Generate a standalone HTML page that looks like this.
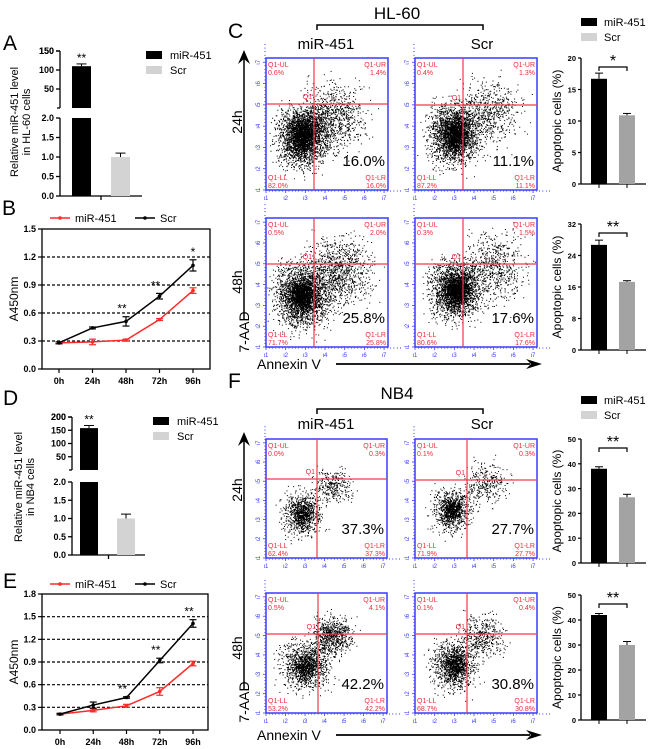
<!DOCTYPE html>
<html><head><meta charset="utf-8"><style>
html,body{margin:0;padding:0;background:#fff}
svg{display:block;font-family:"Liberation Sans",Arial,sans-serif}
</style></head><body>
<svg id="fig" width="650" height="749" viewBox="0 0 650 749" xmlns="http://www.w3.org/2000/svg"></svg>
<script>
// ---- data ----
const timeLabels = ["0h","24h","48h","72h","96h"];
const bMir = [0.28,0.29,0.31,0.53,0.84];
const bMirErr = [0.01,0.03,0.01,0.01,0.03];
const bScr = [0.28,0.44,0.51,0.78,1.11];
const bScrErr = [0.01,0.01,0.05,0.03,0.06];
const bStars = ["","","**","**","*"];
const bTicks = [0,0.3,0.6,0.9,1.2,1.5];
const eMir = [0.21,0.26,0.32,0.51,0.88];
const eMirErr = [0.01,0.02,0.02,0.05,0.03];
const eScr = [0.21,0.33,0.43,0.92,1.41];
const eScrErr = [0.01,0.04,0.01,0.03,0.05];
const eStars = ["","","**","**","**"];
const eTicks = [0,0.3,0.6,0.9,1.2,1.5,1.8];
const aValues = [110,1.0];
const aErr = [6,0.1];
const aUpperTicks = [50,100,150];
const dValues = [158,1.0];
const dErr = [10,0.12];
const dUpperTicks = [50,100,150,200];
const brokenLowerTicks = [0,0.5,1.0,1.5,2.0];
const cApop24 = [16.7,10.9]; const cApop24Err = [0.9,0.3];
const cApop48 = [26.7,17.3]; const cApop48Err = [1.2,0.3];
const fApop24 = [38,26.5]; const fApop24Err = [0.8,1.2];
const fApop48 = [42,30]; const fApop48Err = [0.6,1.4];
const cTicks24 = [0,5,10,15,20];
const cTicks48 = [0,8,16,24,32];
const fTicks = [0,10,20,30,40,50];
const cQuad = [["0.6%","1.4%","82.0%","16.0%"],["0.4%","1.3%","87.2%","11.1%"],["0.5%","2.0%","71.7%","25.8%"],["0.3%","1.5%","80.6%","17.6%"]];
const fQuad = [["0.0%","0.3%","62.4%","37.3%"],["0.1%","0.3%","71.9%","27.7%"],["0.5%","4.1%","53.2%","42.2%"],["0.1%","0.4%","68.7%","30.8%"]];

const svg = document.getElementById('fig');
const NS = "http://www.w3.org/2000/svg";
function el(tag, attrs, parent, text){
  const e = document.createElementNS(NS, tag);
  for (const k in attrs) e.setAttribute(k, attrs[k]);
  if (text !== undefined) e.textContent = text;
  (parent||svg).appendChild(e);
  return e;
}
function txt(x,y,s,size,opts,parent){
  opts = opts||{};
  const t = el('text',{x:x,y:y,'font-size':size,fill:opts.fill||'#000','text-anchor':opts.anchor||'start','font-weight':opts.bold?'bold':'normal'},parent,s);
  if (opts.rot) t.setAttribute('transform','rotate(-90 '+x+' '+y+')');
  return t;
}

// panel letters
[["A",3,50],["B",2,215],["C",228,38],["D",3,405],["E",3,588],["F",228,388]].forEach(p=>{
  const t = txt(p[1],p[2],p[0],21);
  
  
});

// ---- broken-axis bar chart (A, D) ----
function brokenBar(cfg){
  const g = el('g',{});
  
  
  const ax = cfg.ax;
  const yU = v => cfg.uBot - (v - cfg.uMin)/(cfg.uMax - cfg.uMin)*(cfg.uBot - cfg.uTop);
  const yL = v => cfg.lBot - v/2.0*(cfg.lBot - cfg.lTop);
  el('line',{x1:ax,y1:cfg.uTop,x2:ax,y2:cfg.uBot,stroke:'#000','stroke-width':1.3},g);
  el('line',{x1:ax,y1:cfg.lTop,x2:ax,y2:cfg.lBot,stroke:'#000','stroke-width':1.3},g);
  el('line',{x1:ax-3,y1:cfg.uBot,x2:ax,y2:cfg.uBot,stroke:'#000','stroke-width':1.3},g);
  el('line',{x1:ax,y1:cfg.lBot,x2:cfg.axEnd,y2:cfg.lBot,stroke:'#000','stroke-width':1.3},g);
  el('line',{x1:(ax+cfg.axEnd)/2,y1:cfg.lBot,x2:(ax+cfg.axEnd)/2,y2:cfg.lBot+4,stroke:'#000','stroke-width':1.3},g);
  cfg.upperTicks.forEach(v=>{ const y=yU(v); el('line',{x1:ax-4,y1:y,x2:ax,y2:y,stroke:'#000','stroke-width':1.3},g); txt(ax-6,y+3,String(v),9,{anchor:'end',bold:true},g); });
  el('line',{x1:ax-4,y1:cfg.uTop,x2:ax,y2:cfg.uTop,stroke:'#000','stroke-width':1.3},g);
  txt(ax-6,cfg.uTop+3,String(cfg.uMax),9,{anchor:'end',bold:true},g);
  brokenLowerTicks.forEach(v=>{ const y=yL(v); el('line',{x1:ax-4,y1:y,x2:ax,y2:y,stroke:'#000','stroke-width':1.3},g); txt(ax-6,y+3,v.toFixed(1),9,{anchor:'end',bold:true},g); });
  const v0 = cfg.values[0];
  const b1 = el('rect',{x:cfg.bx[0],y:cfg.lTop,width:cfg.bw,height:cfg.lBot-cfg.lTop,fill:'#000'},g);
  
  const yt = yU(v0);
  const b2 = el('rect',{x:cfg.bx[0],y:yt,width:cfg.bw,height:cfg.uBot-yt,fill:'#000'},g);
  
  const ye = yU(v0+cfg.err[0]);
  el('line',{x1:cfg.bx[0]+cfg.bw/2,y1:yt,x2:cfg.bx[0]+cfg.bw/2,y2:ye,stroke:'#000'},g);
  el('line',{x1:cfg.bx[0]+cfg.bw/2-5,y1:ye,x2:cfg.bx[0]+cfg.bw/2+5,y2:ye,stroke:'#000'},g);
  txt(cfg.bx[0]+cfg.bw/2,ye-2,"**",12,{anchor:'middle'},g);
  const v1 = cfg.values[1]; const y1 = yL(v1);
  const b3 = el('rect',{x:cfg.bx[1],y:y1,width:cfg.bw,height:cfg.lBot-y1,fill:'#d3d3d3'},g);
  
  const ye1 = yL(v1+cfg.err[1]);
  el('line',{x1:cfg.bx[1]+cfg.bw/2,y1:y1,x2:cfg.bx[1]+cfg.bw/2,y2:ye1,stroke:'#000'},g);
  el('line',{x1:cfg.bx[1]+cfg.bw/2-5,y1:ye1,x2:cfg.bx[1]+cfg.bw/2+5,y2:ye1,stroke:'#000'},g);
  txt(cfg.ytx,cfg.yty,"Relative miR-451 level",11,{anchor:'middle',rot:true},g);
  txt(cfg.ytx+12,cfg.yty,cfg.cell,11,{anchor:'middle',rot:true},g);
  el('rect',{x:cfg.lx,y:cfg.ly,width:16,height:8,fill:'#000'},g);
  txt(cfg.lx+24,cfg.ly+8,"miR-451",11,{},g);
  el('rect',{x:cfg.lx,y:cfg.ly+15,width:16,height:8,fill:'#d3d3d3'},g);
  txt(cfg.lx+24,cfg.ly+23,"Scr",11,{},g);
}
brokenBar({name:'chart-a-hl60-mir451-level',ax:60,axEnd:142,uTop:51,uBot:108,uMin:0,uMax:150,lTop:118,lBot:196,upperTicks:aUpperTicks,values:aValues,err:aErr,bx:[72,111],bw:19,ytx:18,yty:122,cell:"in HL-60 cells",lx:146,ly:51});
brokenBar({name:'chart-d-nb4-mir451-level',ax:72,axEnd:145,uTop:417,uBot:470,uMin:0,uMax:200,lTop:482,lBot:555,upperTicks:dUpperTicks,values:dValues,err:dErr,bx:[80,117],bw:18,ytx:22,yty:487,cell:"in NB4 cells",lx:153,ly:417});

// ---- line charts (B, E) ----
function lineChart(cfg){
  const g = el('g',{});
  
  
  const ymax = cfg.ticks[cfg.ticks.length-1];
  const X = i => cfg.x0 + i*(cfg.x1-cfg.x0)/(timeLabels.length-1);
  const Y = v => cfg.bot - v/ymax*(cfg.bot-cfg.top);
  cfg.ticks.forEach(v=>{
    const y=Y(v);
    if (v>0 && v<ymax) el('line',{x1:cfg.l,y1:y,x2:cfg.r,y2:y,stroke:'#000','stroke-width':1.2,'stroke-dasharray':'3,2'},g);
    el('line',{x1:cfg.l-4,y1:y,x2:cfg.l,y2:y,stroke:'#000','stroke-width':1.2},g);
    txt(cfg.l-6,y+3,v.toFixed(1),9,{anchor:'end',bold:true},g);
  });
  el('rect',{x:cfg.l,y:cfg.top,width:cfg.r-cfg.l,height:cfg.bot-cfg.top,fill:'none',stroke:'#000','stroke-width':1.3},g);
  timeLabels.forEach((s,i)=>{ el('line',{x1:X(i),y1:cfg.bot,x2:X(i),y2:cfg.bot+4,stroke:'#000','stroke-width':1.2},g); txt(X(i),cfg.bot+15,s,9,{anchor:'middle',bold:true},g); });
  [[cfg.mir,cfg.mirErr,'#ff2a2a','series-mir-451'],[cfg.scr,cfg.scrErr,'#000','series-scr']].forEach(sr=>{
    const pts = sr[0].map((v,i)=>X(i)+','+Y(v)).join(' ');
    const pl = el('polyline',{points:pts,fill:'none',stroke:sr[2],'stroke-width':1.5},g);
    
    sr[0].forEach((v,i)=>{
      const x=X(i), yh=Y(v+sr[1][i]), yl=Y(v-sr[1][i]);
      el('line',{x1:x,y1:yh,x2:x,y2:yl,stroke:sr[2],'stroke-width':1.2},g);
      el('line',{x1:x-3.5,y1:yh,x2:x+3.5,y2:yh,stroke:sr[2],'stroke-width':1.2},g);
      el('line',{x1:x-3.5,y1:yl,x2:x+3.5,y2:yl,stroke:sr[2],'stroke-width':1.2},g);
      el('circle',{cx:x,cy:Y(v),r:1.8,fill:sr[2]},g);
    });
  });
  cfg.stars.forEach((s,i)=>{ if(s){ txt(X(i)-(s.length>1?4:0),Y(cfg.scr[i]+cfg.scrErr[i])-4,s,12,{anchor:'middle'},g);} });
  txt(cfg.l-24,(cfg.top+cfg.bot)/2,"A450nm",12,{anchor:'middle',rot:true},g);
  el('line',{x1:50,y1:cfg.ly,x2:70,y2:cfg.ly,stroke:'#ff2a2a','stroke-width':1.5},g);
  el('circle',{cx:60,cy:cfg.ly,r:1.8,fill:'#ff2a2a'},g);
  txt(75,cfg.ly+4,"miR-451",11,{},g);
  el('line',{x1:135,y1:cfg.ly,x2:155,y2:cfg.ly,stroke:'#000','stroke-width':1.5},g);
  el('circle',{cx:145,cy:cfg.ly,r:1.8,fill:'#000'},g);
  txt(160,cfg.ly+4,"Scr",11,{},g);
}
lineChart({name:'chart-b-hl60-growth',l:42,r:210,top:229,bot:369,x0:59,x1:193,ticks:bTicks,mir:bMir,mirErr:bMirErr,scr:bScr,scrErr:bScrErr,stars:bStars,ly:218});
lineChart({name:'chart-e-nb4-growth',l:42,r:208,top:594,bot:730,x0:60,x1:193,ticks:eTicks,mir:eMir,mirErr:eMirErr,scr:eScr,scrErr:eScrErr,stars:eStars,ly:584});

// ---- apoptosis bar charts ----
function apopBar(cfg){
  const g = el('g',{});
  
  
  const ymax = cfg.ticks[cfg.ticks.length-1];
  const Y = v => cfg.bot - v/ymax*(cfg.bot-cfg.top);
  el('line',{x1:cfg.ax,y1:cfg.top,x2:cfg.ax,y2:cfg.bot,stroke:'#000','stroke-width':1.3},g);
  el('line',{x1:cfg.ax,y1:cfg.bot,x2:646,y2:cfg.bot,stroke:'#000','stroke-width':1.3},g);
  cfg.ticks.forEach(v=>{ const y=Y(v); el('line',{x1:cfg.ax-3,y1:y,x2:cfg.ax,y2:y,stroke:'#000','stroke-width':1.2},g); txt(cfg.ax-5,y+3,String(v),7.5,{anchor:'end',bold:true},g); });
  const bx=[591,619], bw=16, cols=['#000','#a3a3a3'];
  cfg.values.forEach((v,i)=>{
    const y=Y(v);
    const r=el('rect',{x:bx[i],y:y,width:bw,height:cfg.bot-y,fill:cols[i]},g);
    
    const ye=Y(v+cfg.err[i]), xc=bx[i]+bw/2;
    el('line',{x1:xc,y1:y,x2:xc,y2:ye,stroke:'#000'},g);
    el('line',{x1:xc-4,y1:ye,x2:xc+4,y2:ye,stroke:'#000'},g);
    el('line',{x1:xc,y1:cfg.bot,x2:xc,y2:cfg.bot+4,stroke:'#000'},g);
  });
  const by = cfg.top+9;
  el('polyline',{points:'599,'+(by+4)+' 599,'+by+' 627,'+by+' 627,'+(by+4),fill:'none',stroke:'#000','stroke-width':1.2},g);
  txt(613,by-1,cfg.sig,16,{anchor:'middle'},g);
  txt(cfg.ax-20,(cfg.top+cfg.bot)/2,"Apoptopic cells (%)",12,{anchor:'middle',rot:true},g);
}
apopBar({name:'chart-c-apoptosis-24h',ax:581,top:58,bot:184,ticks:cTicks24,values:cApop24,err:cApop24Err,sig:'*'});
apopBar({name:'chart-c-apoptosis-48h',ax:581,top:224,bot:350,ticks:cTicks48,values:cApop48,err:cApop48Err,sig:'**'});
apopBar({name:'chart-f-apoptosis-24h',ax:581,top:439,bot:563,ticks:fTicks,values:fApop24,err:fApop24Err,sig:'**'});
apopBar({name:'chart-f-apoptosis-48h',ax:581,top:595,bot:720,ticks:fTicks,values:fApop48,err:fApop48Err,sig:'**'});
[[20,'legend-c'],[398,'legend-f']].forEach(l=>{
  const g=el('g',{});  
  el('rect',{x:581,y:l[0]-2,width:16,height:8,fill:'#000'},g);
  txt(604,l[0]+6,"miR-451",11,{},g);
  el('rect',{x:581,y:l[0]+13,width:16,height:8,fill:'#d3d3d3'},g);
  txt(604,l[0]+21,"Scr",11,{},g);
});

// ---- flow cytometry plots (decorative scatter texture, deterministic) ----
let seed = 12345;
function rnd(){ seed = (seed*1103515245 + 12345) % 2147483648; return seed/2147483648; }
function gauss(){ return (rnd()+rnd()+rnd()+rnd()-2)/0.58; }
function flow(name,x0,y0,x1,y1,vx,hy,quad,clusters){
  const g = el('g',{});
  
  
  const w=x1-x0, h=y1-y0;
  let d='';
  clusters.forEach(c=>{
    for(let i=0;i<c[4];i++){
      const px=x0+w*(c[0]+c[2]*gauss()), py=y0+h*(c[1]+c[3]*gauss());
      if(px>x0+1&&px<x1-1&&py>y0+1&&py<y1-1) d+='M'+px.toFixed(1)+' '+py.toFixed(1)+'h1v1h-1z';
    }
  });
  el('path',{d:d,fill:'#000'},g);
  el('rect',{x:x0,y:y0,width:w,height:h,fill:'none',stroke:'#3a3aff','stroke-width':1.5},g);
  for(let i=0;i<=6;i++){
    const tx=x0+w*i/6.2, ty=y1-h*i/6.2;
    el('line',{x1:tx,y1:y1,x2:tx,y2:y1+3,stroke:'#3a3aff','stroke-width':0.8},g);
    el('line',{x1:x0-3,y1:ty,x2:x0,y2:ty,stroke:'#3a3aff','stroke-width':0.8},g);
    for(let k=1;k<6;k++){
      el('line',{x1:tx+w/6.2*k/6,y1:y1,x2:tx+w/6.2*k/6,y2:y1+2,stroke:'#3a3aff','stroke-width':0.5},g);
      el('line',{x1:x0-2,y1:ty-h/6.2*k/6,x2:x0,y2:ty-h/6.2*k/6,stroke:'#3a3aff','stroke-width':0.5},g);
    }
    txt(tx,y1+10,'ι'+(i+1),6,{fill:'#3a3aff',anchor:'middle'},g);
    txt(x0-6,ty,'ι'+(i+1),6,{fill:'#3a3aff',anchor:'middle',rot:true},g);
  }
  el('line',{x1:vx,y1:y0,x2:vx,y2:y1,stroke:'#f03a4a','stroke-width':1.2},g);
  el('line',{x1:x0,y1:hy,x2:x1,y2:hy,stroke:'#f03a4a','stroke-width':1.2},g);
  const red='#f02a3a';
  txt(x0+2,y0+9,'Q1-UL',7,{fill:red},g); txt(x0+2,y0+17,quad[0],7,{fill:red},g);
  txt(x1-2,y0+9,'Q1-UR',7,{fill:red,anchor:'end'},g); txt(x1-2,y0+17,quad[1],7,{fill:red,anchor:'end'},g);
  txt(x0+2,y1-10,'Q1-LL',7,{fill:red},g); txt(x0+2,y1-2,quad[2],7,{fill:red},g);
  txt(x1-2,y1-10,'Q1-LR',7,{fill:red,anchor:'end'},g); txt(x1-2,y1-2,quad[3],7,{fill:red,anchor:'end'},g);
  txt(vx-2,hy-5,'Q1',7,{fill:red,anchor:'end'},g);
  txt(x1-3,y1-24,quad[3],15,{anchor:'end'},g);
}
flow('flow-hl60-mir451-24h',266,58,388,190,314,104,cQuad[0],[[0.3,0.6,0.1,0.11,2200],[0.3,0.58,0.05,0.06,900],[0.55,0.45,0.13,0.13,900]]);
flow('flow-hl60-scr-24h',415,58,537,190,463,105,cQuad[1],[[0.32,0.58,0.1,0.11,2000],[0.33,0.58,0.05,0.06,800],[0.6,0.42,0.12,0.12,650]]);
flow('flow-hl60-mir451-48h',266,218,388,347,314,264,cQuad[2],[[0.3,0.6,0.11,0.12,2200],[0.3,0.6,0.05,0.06,900],[0.6,0.42,0.13,0.13,1000]]);
flow('flow-hl60-scr-48h',415,218,537,347,463,264,cQuad[3],[[0.33,0.56,0.1,0.11,2000],[0.35,0.56,0.05,0.06,900],[0.66,0.38,0.12,0.13,650]]);
flow('flow-nb4-mir451-24h',266,439,387,558,317,479,fQuad[0],[[0.3,0.63,0.08,0.09,700],[0.3,0.63,0.04,0.05,300],[0.55,0.4,0.08,0.07,300]]);
flow('flow-nb4-scr-24h',415,439,537,558,467,480,fQuad[1],[[0.3,0.6,0.08,0.09,750],[0.3,0.6,0.04,0.04,350],[0.58,0.38,0.09,0.09,320]]);
flow('flow-nb4-mir451-48h',266,593,387,713,318,634,fQuad[2],[[0.33,0.6,0.1,0.1,1000],[0.33,0.62,0.05,0.05,350],[0.55,0.35,0.08,0.08,700]]);
flow('flow-nb4-scr-48h',415,593,537,713,467,634,fQuad[3],[[0.32,0.6,0.09,0.1,1000],[0.33,0.6,0.04,0.05,400],[0.55,0.37,0.09,0.09,420]]);

function header(title,ty,by,cy){
  const g=el('g',{});  
  txt(397,ty,title,17,{anchor:'middle'},g);
  el('polyline',{points:'317,'+(by+5)+' 317,'+by+' 483,'+by+' 483,'+(by+5),fill:'none',stroke:'#000','stroke-width':1.5},g);
  txt(326,cy,'miR-451',15,{anchor:'middle'},g);
  txt(482,cy,'Scr',15,{anchor:'middle'},g);
}
header('HL-60',19,25,49);
header('NB4',399,409,429);
function axes(top,bot,yAnn,y24,y48){
  const g=el('g',{});  
  el('line',{x1:244,y1:top+8,x2:244,y2:bot,stroke:'#000','stroke-width':1.5},g);
  el('path',{d:'M244 '+top+' L238 '+(top+14)+' L244 '+(top+9)+' L250 '+(top+14)+'Z',fill:'#000'},g);
  txt(249,bot+12,'7-AAD',14,{anchor:'middle',rot:true},g);
  txt(242,y24,'24h',14,{anchor:'middle',rot:true},g);
  txt(242,y48,'48h',14,{anchor:'middle',rot:true},g);
  txt(257,yAnn+5,'Annexin V',14,{},g);
  el('line',{x1:336,y1:yAnn,x2:530,y2:yAnn,stroke:'#000','stroke-width':1.8},g);
  el('path',{d:'M542 '+yAnn+' L526 '+(yAnn-5)+' L531 '+yAnn+' L526 '+(yAnn+5)+'Z',fill:'#000'},g);
}
axes(50,320,364,122,282);
axes(432,690,735,490,648);
</script>
</body></html>
